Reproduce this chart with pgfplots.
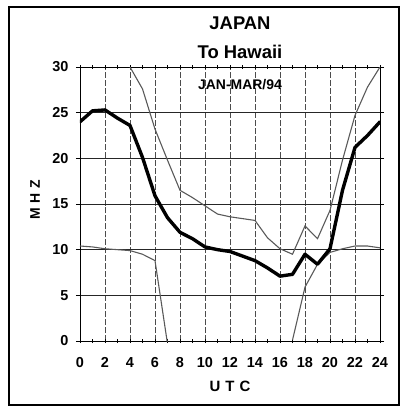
\documentclass[border=0pt]{standalone}
\usepackage{pgfplots}
\pgfplotsset{compat=1.18}
\usepackage{fontspec}
\setmainfont{Liberation Sans}

% MHz by hour, JAN-MAR/94
\pgfplotstableread{
h  f
0  24.0
1  25.2
2  25.3
3  24.4
4  23.6
5  20.1
6  15.9
7  13.5
8  11.9
9  11.2
10 10.3
11 10.0
12  9.8
13  9.3
14  8.8
15  8.0
16  7.1
17  7.3
18  9.5
19  8.4
20 10.1
21 16.5
22 21.2
23 22.5
24 24.0
}\muf
\pgfplotstableread{
h  f
4  30.0
5  27.6
6  23.2
7  19.8
8  16.5
9  15.7
10 14.8
11 13.9
12 13.6
13 13.4
14 13.2
15 11.3
16 10.1
17  9.5
18 12.6
19 11.2
20 14.3
21 19.8
22 24.7
23 27.8
24 30.0
}\upper
\pgfplotstableread{
h  f
0  10.4
1  10.3
2  10.1
3  10.0
4   9.9
5   9.5
6   8.8
7  -0.3
}\lowera
\pgfplotstableread{
h  f
17  0.1
18  5.9
19  8.4
20  9.7
21 10.1
22 10.4
23 10.4
24 10.2
}\lowerb

\begin{document}
\begin{tikzpicture}[x=1bp,y=1bp]
\useasboundingbox (-80,-67) rectangle (320,341);
\draw[line width=1.8bp] (-71,-64) rectangle (319,334);
\begin{axis}[
  scale only axis,
  width=300bp, height=274bp,
  xmin=0, xmax=24, ymin=0, ymax=30,
  xtick={0,2,...,24}, ytick={0,5,...,30},
  minor x tick num=1,
  xmajorgrids, ymajorgrids,
  x grid style={dash pattern=on 6pt off 2pt, black!70, line width=0.5pt},
  y grid style={black!85, line width=0.8pt},
  axis line style={black, line width=0.9pt},
  tick style={black, line width=0.7pt},
  xtick align=center,
  ytick align=outside,
  major tick length=4bp, minor tick length=4bp,
  ticklabel style={font=\bfseries\fontsize{14.5}{14.5}\selectfont},
  /pgf/number format/assume math mode=true,
  xticklabel style={yshift=-11bp},
  yticklabel style={xshift=-4bp},
  clip=true,
]
\addplot[black!65, line width=1.1pt] table[x=h,y=f] {\upper};
\addplot[black!65, line width=1.1pt] table[x=h,y=f] {\lowera};
\addplot[black!65, line width=1.1pt] table[x=h,y=f] {\lowerb};
\addplot[black, line width=3.4pt, line join=round, line cap=round] table[x=h,y=f] {\muf};
\end{axis}
\node[font=\bfseries\fontsize{18.5}{18.5}\selectfont] at (160,318) {JAPAN};
\node[font=\bfseries\fontsize{18.5}{18.5}\selectfont] at (160,289) {To Hawaii};
\node[font=\bfseries\fontsize{14}{14}\selectfont] at (160,256) {JAN-MAR/94};
\node[font=\bfseries\fontsize{14}{14}\selectfont, rotate=90] at (-45,141) {M\,\,H\,\,Z};
\node[font=\bfseries\fontsize{15}{15}\selectfont] at (150,-45) {U\,\,T\,\,C};
\end{tikzpicture}
\end{document}
